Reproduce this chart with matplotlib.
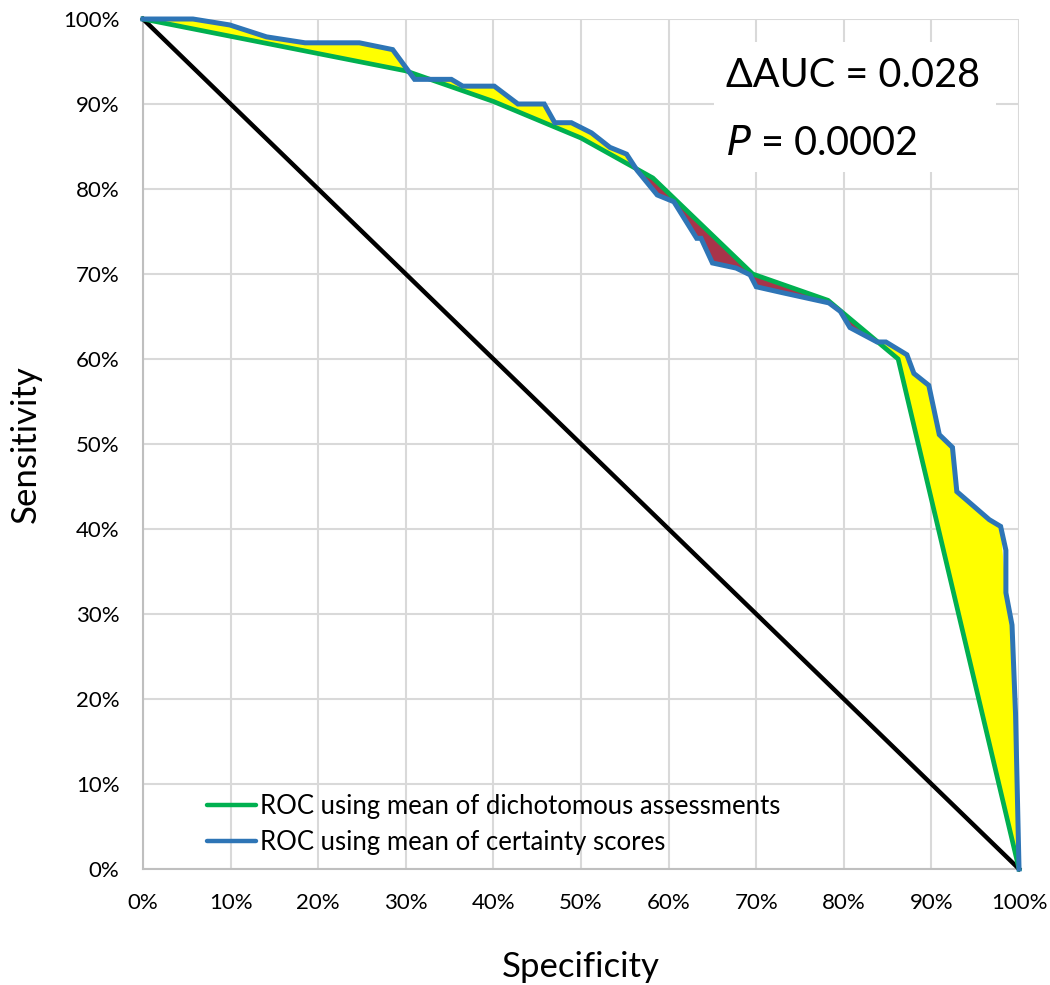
import matplotlib
matplotlib.use('Agg')
import matplotlib.pyplot as plt
from matplotlib.patches import Rectangle
import numpy as np

plt.rcParams['font.family'] = ['Lato', 'DejaVu Sans']

# ROC using mean of dichotomous assessments (specificity %, sensitivity %)
dich_spec = [0, 30.0, 40.0, 50.0, 58.2, 69.6, 78.2, 86.2, 100]
dich_sens = [100, 93.9, 90.3, 86.0, 81.3, 70.0, 66.9, 60.0, 0]

# ROC using mean of certainty scores
cert_spec = [0, 5.7, 9.9, 14.1, 18.5, 24.7, 28.5, 31.0, 35.2, 36.5, 40.1, 42.8, 45.8,
             47.0, 48.9, 51.2, 53.3, 55.2, 56.4, 58.7, 60.6, 63.2, 63.7, 65.0, 67.7,
             69.3, 70.0, 73.0, 78.3, 79.6, 80.7, 83.8, 84.8, 87.2, 88.0, 89.7, 90.9,
             92.4, 92.9, 96.6, 97.9, 98.5, 98.5, 99.2, 99.6, 100]
cert_sens = [100, 100, 99.3, 97.9, 97.2, 97.2, 96.4, 92.9, 92.9, 92.1, 92.1, 90.0, 90.0,
             87.8, 87.8, 86.6, 84.9, 84.1, 82.2, 79.3, 78.5, 74.2, 74.2, 71.3, 70.7,
             69.9, 68.5, 67.8, 66.6, 65.6, 63.7, 62.0, 62.0, 60.5, 58.3, 56.9, 51.1,
             49.6, 44.4, 41.1, 40.3, 37.5, 32.5, 28.7, 18.3, 0]

diag_x = [0, 100]
diag_y = [100, 0]

ticks = list(range(0, 101, 10))
tick_labels = ['%d%%' % t for t in ticks]

fig = plt.figure(figsize=(10.5, 9.85), dpi=100)
ax = fig.add_axes([0.1362, 0.1178, 0.8343, 0.8629])

# shade the gap between the two curves on a shared grid
grid = np.union1d(dich_spec, cert_spec)
g = np.interp(grid, dich_spec, dich_sens)
b = np.interp(grid, cert_spec, cert_sens)
ax.fill_between(grid, g, b, where=b >= g, interpolate=True, color='#FFFF00', lw=0, zorder=2)
ax.fill_between(grid, g, b, where=b < g, interpolate=True, color='#A8344A', lw=0, zorder=2)

ax.plot(diag_x, diag_y, color='black', lw=3.2, zorder=3, clip_on=False)
ax.plot(dich_spec, dich_sens, color='#00B050', lw=3.4, zorder=4, clip_on=False,
        label='ROC using mean of dichotomous assessments')
ax.plot(cert_spec, cert_sens, color='#2E75B6', lw=3.6, zorder=5, clip_on=False,
        label='ROC using mean of certainty scores', solid_joinstyle='miter')

ax.set_xlim(0, 100)
ax.set_ylim(0, 100)
ax.set_xticks(ticks)
ax.set_yticks(ticks)
ax.set_xticklabels(tick_labels, fontsize=16)
ax.set_yticklabels(tick_labels, fontsize=16)
ax.tick_params(axis='x', length=0, pad=17)
ax.tick_params(axis='y', length=0, pad=17)
ax.grid(True, color='#D9D9D9', lw=1.5, zorder=0)
ax.set_axisbelow(True)
for s in ['top', 'right']:
    ax.spines[s].set_visible(False)
for s in ['left', 'bottom']:
    ax.spines[s].set_color('#BFBFBF')
    ax.spines[s].set_linewidth(1.5)

ax.set_xlabel('Specificity', fontsize=25, labelpad=28)
ax.set_ylabel('Sensitivity', fontsize=25, labelpad=15)

# white box behind the stats text
ax.add_patch(Rectangle((0.652, 0.82), 0.322, 0.153, transform=ax.transAxes,
                       facecolor='white', edgecolor='none', zorder=6))
ax.text(0.666, 0.934, '\u0394AUC = 0.028', transform=ax.transAxes, fontsize=28.5,
        va='center', ha='left', zorder=7)
ax.text(0.666, 0.854, '$\\mathit{P}$ = 0.0002', transform=ax.transAxes, fontsize=28.5,
        va='center', ha='left', zorder=7)

leg = ax.legend(loc='lower left', bbox_to_anchor=(0.073, 0.016), frameon=False,
                fontsize=18.5, handlelength=1.9, handletextpad=0.18, labelspacing=0.45,
                borderpad=0, borderaxespad=0)
for line in leg.get_lines():
    line.set_linewidth(3.2)
    line.set_solid_capstyle('round')

fig.savefig('out.png', dpi=100)
